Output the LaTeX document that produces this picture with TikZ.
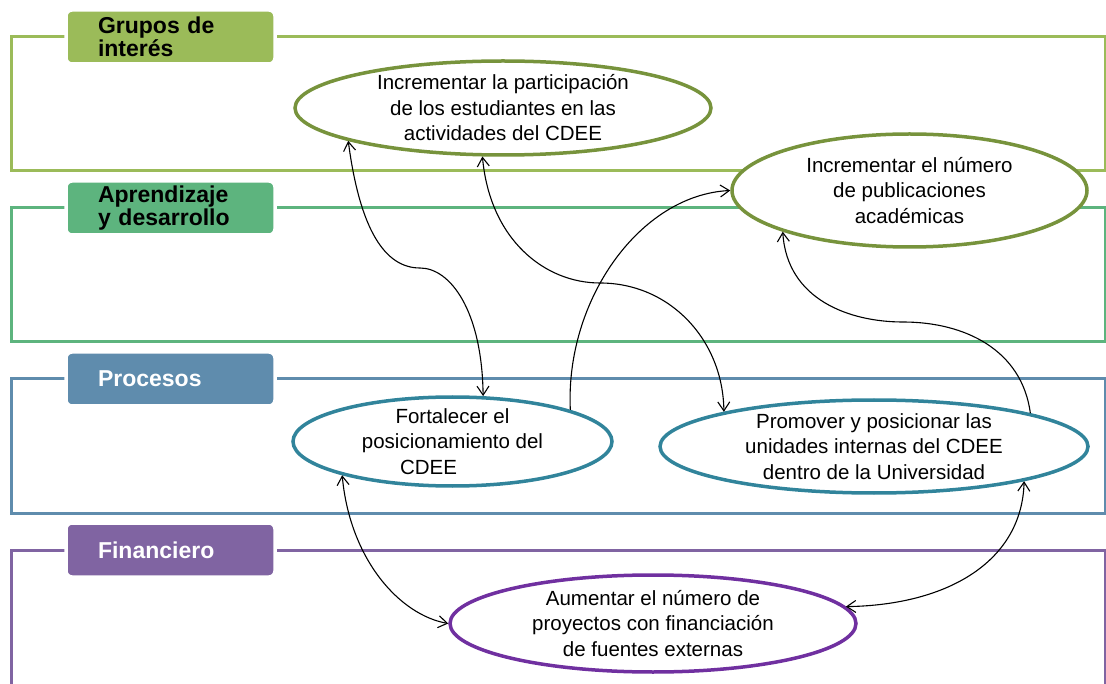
\documentclass[tikz,border=0pt]{standalone}
\usepackage{fontspec}
\setmainfont{Liberation Sans}
\usetikzlibrary{arrows.meta,shapes.geometric}
\definecolor{bandA}{HTML}{9BBB59}
\definecolor{bandB}{HTML}{5DB47E}
\definecolor{bandC}{HTML}{5F8CAD}
\definecolor{bandD}{HTML}{8064A2}
\definecolor{olive}{HTML}{77933C}
\definecolor{teal}{HTML}{31849B}
\definecolor{violet}{HTML}{7030A0}
\begin{document}
\begin{tikzpicture}[x=1pt,y=-1pt,
  band/.style={line width=3pt},
  tabbox/.style={rectangle, rounded corners=6pt, draw=white, line width=3.5pt,
    minimum width=209pt, minimum height=54pt, text width=145pt, inner xsep=32pt,
    inner ysep=0pt, align=left, font=\bfseries\fontsize{23}{23}\selectfont},
  goal/.style={ellipse, fill=white, line width=3.5pt, inner sep=0pt},
  goaltext/.style={align=center, font=\fontsize{20.5}{25.5}\selectfont, inner sep=0pt},
  tipend/.style={line width=1.1pt, -{Straight Barb[length=9pt,width=12pt]}},
  tipboth/.style={line width=1.1pt, {Straight Barb[length=9pt,width=12pt]}-{Straight Barb[length=9pt,width=12pt]}}
]
\useasboundingbox (0,0) rectangle (1106,684);
% bands
\draw[band, draw=bandA] (11,37) rectangle (1105,171);
\draw[band, draw=bandB] (11,208) rectangle (1105,342);
\draw[band, draw=bandC] (11,379) rectangle (1105,513);
\draw[band, draw=bandD] (11,550) rectangle (1105,700);
% tabs
\node[tabbox, fill=bandA] (tA) at (170.5,37) {Grupos de\\interés};
\node[tabbox, fill=bandB] (tB) at (170.5,208) {Aprendizaje\\y desarrollo};
\node[tabbox, fill=bandC, text=white] (tC) at (170.5,379) {Procesos};
\node[tabbox, fill=bandD, text=white] (tD) at (170.5,550) {Financiero};
% goals
\node[goal, draw=olive, minimum width=416pt, minimum height=94pt] (e1) at (503,108) {};
\node[goaltext] (e1t) at (e1.center) {Incrementar la participación\\de los estudiantes en las\\actividades del CDEE};
\node[goal, draw=olive, minimum width=355pt, minimum height=113pt] (e2) at (909.5,190.5) {};
\node[goaltext] (e2t) at (e2.center) {Incrementar el número\\de publicaciones\\académicas};
\node[goal, draw=teal, minimum width=319pt, minimum height=89pt] (e3) at (452.5,441.5) {};
\node[goaltext] (e3t) at (e3.center) {Fortalecer el\\posicionamiento del\\CDEE\hspace*{48pt}};
\node[goal, draw=teal, minimum width=428pt, minimum height=93pt] (e4) at (874,446.5) {};
\node[goaltext] (e4t) at (e4.center) {Promover y posicionar las\\unidades internas del CDEE\\dentro de la Universidad};
\node[goal, draw=violet, minimum width=406pt, minimum height=97pt] (e5) at (653,623.5) {};
\node[goaltext] (e5t) at (e5.center) {Aumentar el número de\\proyectos con financiación\\de fuentes externas};
% links
\draw[tipboth] (e1.192) .. controls (360,230) and (385,268) .. (420,268)
  .. controls (450,268) and (482,310) .. (e3.56);
\draw[tipboth] (e1.247) .. controls (490,240) and (545,283) .. (600,283)
  .. controls (670,283) and (723,340) .. (e4.167);
\draw[tipend] (e3.15) .. controls (565,300) and (640,195) .. (e2.180);
\draw[tipend] (e4.12) .. controls (1022,350) and (965,322) .. (903,322)
  .. controls (850,322) and (787,300) .. (e2.198);
\draw[tipboth] (e3.197) .. controls (350,560) and (400,615) .. (e5.180);
\draw[tipboth] (e5.5) .. controls (950,605) and (1022,560) .. (e4.347);
\end{tikzpicture}
\end{document}
